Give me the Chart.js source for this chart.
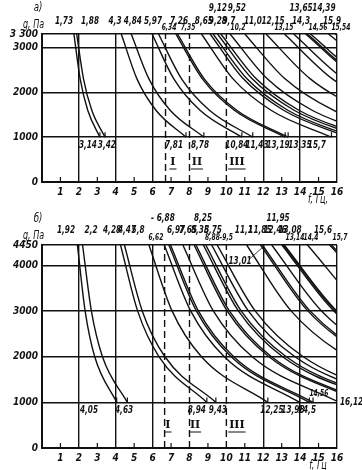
<!DOCTYPE html>
<html>
<head>
<meta charset="utf-8">
<script src="https://cdn.jsdelivr.net/npm/chart.js@4.4.1/dist/chart.umd.min.js"></script>
<style>
  html, body { margin: 0; padding: 0; background: #fff; }
  #wrap { position: relative; width: 362px; height: 470px; }
  canvas { position: absolute; left: 0; top: 0; }
</style>
</head>
<body>
<div id="wrap">
  <canvas id="chartA" width="362" height="470"></canvas>
  <canvas id="chartB" width="362" height="470"></canvas>
</div>
<script>
// ---- panel а) : g levels and, per curve, f (Hz) read at each level ----
const gLevelsA = [3300, 2300, 1600, 1000];
const curvesA = [
  [1.73, 2.07, 2.48, 3.14],
  [1.88, 2.25, 2.70, 3.42],
  [4.30, 5.15, 6.18, 7.81],
  [4.84, 5.80, 6.95, 8.78],
  [5.97, 7.15, 8.57, 10.84],
  [6.32, 7.57, 9.08, 11.43],
  [7.26, 8.70, 10.43, 13.19],
  [7.35, 8.80, 10.56, 13.35],
  [8.65, 10.36, 12.42, 15.70],
  [9.12, 10.92, 13.10, 16.57],
  [9.28, 11.12, 13.33, 16.86],
  [9.52, 11.40, 13.67, 17.29],
  [9.70, 11.62, 13.93, 17.62],
  [10.2, 12.22, 14.65, 18.53],
  [11.0, 13.18, 15.80, 19.98],
  [12.15, 14.55, 17.45, 22.07],
  [13.15, 15.75, 18.88, 23.89],
  [13.65, 16.35, 19.60, 24.80],
  [14.30, 17.13, 20.54, 25.98],
  [14.39, 17.24, 20.67, 26.14],
  [14.56, 17.44, 20.91, 26.45],
  [15.54, 18.61, 22.32, 28.23],
  [15.90, 19.04, 22.83, 28.88]
];
const topLabelsA = ['1,73', '1,88', '4,3', '4,84', '5,97', '6,34', '7,26', '7,35', '8,65', '9,12', '9,28',
  '9,52', '9,7', '10,2', '11,0', '12,15', '13,15', '13,65', '14,3', '14,39', '14,56', '15,54', '15,9'];
const bottomLabelsA = ['3,14', '3,42', '7,81', '8,78', '10,84', '11,43', '13,19', '13,35', '15,7'];
const dashedA = [6.7, 8, 10];
const romanA = ['I', 'II', 'III'];
const yTicksA = [0, 1000, 2000, 3000, 3300];
const yTickLabelsA = ['0', '1000', '2000', '3000', '3 300'];

// ---- panel б) ----
const gLevelsB = [4450, 3000, 2000, 1000];
const curvesB = [
  [1.92, 2.34, 2.86, 4.05],
  [2.20, 2.68, 3.28, 4.63],
  [4.26, 5.19, 6.35, 8.94],
  [4.47, 5.44, 6.67, 9.43],
  [5.80, 7.06, 8.65, 12.25],
  [6.63, 8.07, 9.89, 13.98],
  [6.88, 8.38, 10.26, 14.50],
  [6.97, 8.49, 10.40, 14.70],
  [7.64, 9.30, 11.40, 16.12],
  [8.25, 10.05, 12.31, 17.40],
  [8.35, 10.17, 12.45, 17.61],
  [8.75, 10.66, 13.05, 18.46],
  [8.88, 10.81, 13.25, 18.73],
  [9.20, 11.20, 13.72, 19.41],
  [9.50, 11.57, 14.17, 20.04],
  [11.10, 13.52, 16.56, 23.42],
  [11.85, 14.43, 17.68, 25.00],
  [11.95, 14.55, 17.82, 25.21],
  [12.46, 15.17, 18.59, 26.28],
  [13.01, 15.84, 19.41, 27.44],
  [13.08, 15.93, 19.51, 27.59],
  [13.14, 16.00, 19.60, 27.72],
  [14.40, 17.54, 21.48, 30.38],
  [15.60, 19.00, 23.27, 32.91],
  [15.70, 19.12, 23.42, 33.12]
];
const topLabelsB = ['1,92', '2,2', '4,28', '4,47', '5,8', '6,62', '- 6,88', '6,97', '7,65', '8,25', '8,35',
  '8,75', '8,88-9,5', '11,1', '11,85', '11,95', '12,46', '13,08', '13,14', '14,4', '15,6', '15,7'];
const bottomLabelsB = ['4,05', '4,63', '8,94', '9,43', '12,25', '13,98', '14,5'];
const dashedB = [6.65, 8, 10];
const romanB = ['I', 'II', 'III'];
const yTicksB = [0, 1000, 2000, 3000, 4000, 4450];
const yTickLabelsB = ['0', '1000', '2000', '3000', '4000', '4450'];

const xTicks = [0, 1, 2, 3, 4, 5, 6, 7, 8, 9, 10, 11, 12, 13, 14, 15, 16];
const solidX = [2, 4, 6, 12, 14, 16];

// label layout: [f anchor, row]  (row 0 upper, 1 lower, 2 small)
const topPosA = [[1.19, 1], [2.60, 1], [3.96, 1], [4.93, 1], [6.02, 1], [6.89, 2], [7.43, 1], [7.92, 2],
  [8.78, 1], [9.54, 0], [9.54, 1], [10.57, 0], [10.14, 1], [10.63, 2], [11.44, 1], [12.53, 1], [13.12, 2],
  [14.05, 0], [14.05, 1], [15.29, 0], [14.97, 2], [16.21, 2], [15.73, 1]];
const bottomPosA = [2.49, 3.52, 7.16, 8.57, 10.57, 11.66, 12.80, 13.99, 14.91];
const romanPosA = [[7.10, 446], [8.40, 446], [10.57, 446]];

const topPosB = [[1.30, 1], [2.66, 1], [3.80, 1], [4.61, 1], [5.21, 1], [6.18, 2], [6.56, 0], [7.27, 1],
  [7.92, 1], [8.73, 0], [8.57, 1], [9.27, 1], [9.60, 2], [10.95, 1], [11.82, 1], [12.80, 0], [12.64, 1],
  [13.45, 1], [13.72, 2], [14.59, 2], [15.24, 1], [16.16, 2]];
const bottomPosB = [2.55, 4.45, 8.40, 9.54, 12.47, 13.61, 14.37];
const romanPosB = [[6.83, 504], [8.30, 504], [10.57, 504]];

const ink = '#111';
const FAMILY = '"Liberation Sans Narrow", "DejaVu Sans Condensed", "Liberation Sans", sans-serif';
const SQUEEZE = 0.74;

function buildDatasets(levels, curves, dashed, yMax) {
  const sets = curves.map(fs => ({
    data: fs.map((f, i) => ({ x: f, y: levels[i] })),
    showLine: true,
    borderColor: ink,
    borderWidth: 1.4,
    pointRadius: 0,
    cubicInterpolationMode: 'monotone',
    clip: 0
  }));
  dashed.forEach(f => sets.push({
    data: [{ x: f, y: 0 }, { x: f, y: yMax }],
    showLine: true,
    borderColor: ink,
    borderWidth: 1.4,
    borderDash: [7, 4],
    pointRadius: 0,
    clip: 0
  }));
  return sets;
}

// narrow text, like the drafting font of the original
function ntext(ctx, t, x, y) {
  ctx.save();
  ctx.translate(x, y);
  ctx.scale(SQUEEZE, 1);
  ctx.fillText(t, 0, 0);
  ctx.restore();
}

function annotPlugin(p) {
  return {
    id: 'annot',
    afterDatasetsDraw(chart) {
      const { ctx, chartArea } = chart;
      const x = chart.scales.x, y = chart.scales.y;
      const px = v => x.getPixelForValue(v);
      const py = v => y.getPixelForValue(v);
      const seg = (x1, y1, x2, y2) => { ctx.beginPath(); ctx.moveTo(x1, y1); ctx.lineTo(x2, y2); ctx.stroke(); };
      ctx.save();
      ctx.fillStyle = ink;
      ctx.strokeStyle = ink;
      ctx.lineWidth = 1.2;

      // small ticks at odd f
      for (let v = 1; v < 16; v += 2) seg(px(v), chartArea.bottom, px(v), chartArea.bottom - 5);

      // end marks on the 1000 line
      const y1000 = py(1000);
      p.curves.forEach(c => {
        const fe = c[c.length - 1];
        if (fe < 16) seg(px(fe), y1000, px(fe), y1000 - 5);
      });

      ctx.textAlign = 'center';
      ctx.textBaseline = 'middle';
      const big = 'italic 600 11px ' + FAMILY;
      const small = 'italic 600 9px ' + FAMILY;

      p.topLabels.forEach((t, i) => {
        const [f, row] = p.topPos[i];
        ctx.font = row === 2 ? small : big;
        ntext(ctx, t, px(f), chartArea.top + p.rows[row]);
      });

      ctx.font = big;
      p.bottomLabels.forEach((t, i) => ntext(ctx, t, px(p.bottomPos[i]), y1000 + 8));

      // roman numerals, underlined
      ctx.font = 'bold 11px "DejaVu Serif", serif';
      p.romans.forEach((t, i) => {
        const [f, g] = p.romanPos[i];
        const cx = px(f), cy = py(g);
        ctx.fillText(t, cx, cy);
        const w = ctx.measureText(t).width;
        ctx.lineWidth = 1;
        seg(cx - w / 2 - 1, cy + 7, cx + w / 2 + 1, cy + 7);
      });

      if (p.extra) p.extra(ctx, px, py, seg, chartArea, big, small);

      // titles
      ctx.font = 'italic 13px ' + FAMILY;
      ntext(ctx, p.panel, chartArea.left - 4, chartArea.top - 26);
      ctx.textAlign = 'left';
      ctx.font = 'italic 12px ' + FAMILY;
      ntext(ctx, 'g, Па', chartArea.left - 19, chartArea.top - 9);
      ctx.textAlign = 'center';
      ntext(ctx, p.fTitle, chartArea.right - 19, chartArea.bottom + 18);
      ctx.restore();
    }
  };
}

function makeChart(id, p) {
  return new Chart(document.getElementById(id), {
    type: 'scatter',
    data: { datasets: buildDatasets(p.levels, p.curves, p.dashed, p.yMax) },
    options: {
      responsive: false,
      animation: false,
      events: [],
      layout: { padding: { top: p.top, right: 25, left: 0, bottom: 0 } },
      plugins: { legend: { display: false }, tooltip: { enabled: false } },
      scales: {
        x: {
          type: 'linear', min: 0, max: 16,
          afterFit: s => { s.height = p.xAxisH; },
          afterBuildTicks: s => { s.ticks = xTicks.map(v => ({ value: v })); },
          ticks: {
            autoSkip: false, maxRotation: 0, padding: 4, color: ink,
            font: { family: FAMILY, size: 10, style: 'italic', weight: '600' },
            callback: v => (v === 0 ? '' : String(v))
          },
          grid: {
            drawTicks: false, lineWidth: 1.4,
            color: c => (c.tick && solidX.includes(c.tick.value) ? ink : 'rgba(0,0,0,0)')
          },
          border: { color: ink, width: 2 }
        },
        y: {
          min: 0, max: p.yMax,
          afterFit: s => { s.width = 42; },
          afterBuildTicks: s => { s.ticks = p.yTicks.map(v => ({ value: v })); },
          ticks: {
            padding: 4, color: ink,
            font: { family: FAMILY, size: 10, style: 'italic', weight: '600' },
            callback: (v, i) => p.yTickLabels[i]
          },
          grid: { drawTicks: false, lineWidth: 1.4, color: ink },
          border: { color: ink, width: 2 }
        }
      }
    },
    plugins: [annotPlugin(p)]
  });
}

makeChart('chartA', {
  top: 34, xAxisH: 288, yMax: 3300,
  levels: gLevelsA, curves: curvesA, dashed: dashedA,
  yTicks: yTicksA, yTickLabels: yTickLabelsA,
  topLabels: topLabelsA, topPos: topPosA, rows: [-26, -13, -6],
  bottomLabels: bottomLabelsA, bottomPos: bottomPosA,
  romans: romanA, romanPos: romanPosA,
  panel: 'а)', fTitle: 'f, Гц,'
});

makeChart('chartB', {
  top: 245, xAxisH: 22, yMax: 4450,
  levels: gLevelsB, curves: curvesB, dashed: dashedB,
  yTicks: yTicksB, yTickLabels: yTickLabelsB,
  topLabels: topLabelsB, topPos: topPosB, rows: [-27, -15, -7],
  bottomLabels: bottomLabelsB, bottomPos: bottomPosB,
  romans: romanB, romanPos: romanPosB,
  panel: 'б)', fTitle: 'f, Гц',
  extra: (ctx, px, py, seg, area, big, small) => {
    ctx.font = small;
    ntext(ctx, '14,56', px(15.02), py(1184));
    ctx.font = big;
    ctx.textAlign = 'left';
    ntext(ctx, '16,12', area.right + 3, py(1000));
    ctx.textAlign = 'center';
    ntext(ctx, '13,01', px(10.74), py(4099));
    ctx.lineWidth = 0.8;
    seg(px(11.25), py(4140), px(12.05), py(4430));
  }
});
</script>
</body>
</html>
